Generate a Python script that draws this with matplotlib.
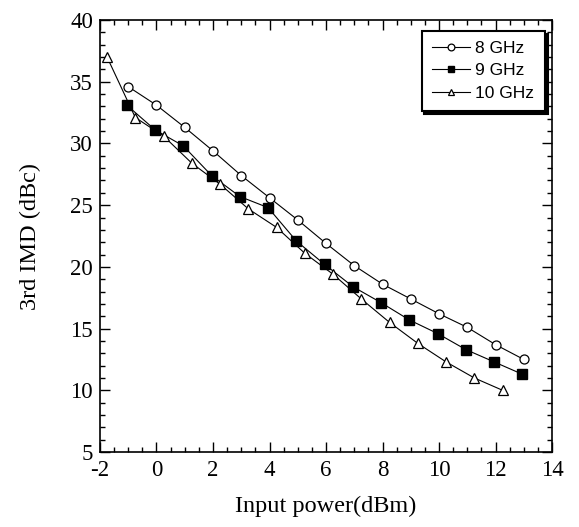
import numpy as np
import matplotlib
matplotlib.use("Agg")
import matplotlib.pyplot as plt
from matplotlib.ticker import MultipleLocator

# data
x_8 = [-1, 0, 1, 2, 3, 4, 5, 6, 7, 8, 9, 10, 11, 12, 13]
imd_8 = [34.6, 33.1, 31.3, 29.4, 27.4, 25.6, 23.8, 21.9, 20.1, 18.6, 17.4, 16.2, 15.1, 13.7, 12.5]

x_9 = [-1.05, -0.05, 0.95, 1.95, 2.95, 3.95, 4.95, 5.95, 6.95, 7.95, 8.95, 9.95, 10.95, 11.95, 12.95]
imd_9 = [33.1, 31.1, 29.8, 27.4, 25.7, 24.8, 22.1, 20.2, 18.4, 17.1, 15.7, 14.6, 13.3, 12.3, 11.3]

x_10 = [-1.75, -0.75, 0.25, 1.25, 2.25, 3.25, 4.25, 5.25, 6.25, 7.25, 8.25, 9.25, 10.25, 11.25, 12.25]
imd_10 = [37.0, 32.1, 30.6, 28.4, 26.7, 24.7, 23.2, 21.1, 19.4, 17.4, 15.5, 13.8, 12.3, 11.0, 10.0]

labels = ['8 GHz', '9 GHz', '10 GHz']

plt.rcParams['font.family'] = ['Liberation Serif', 'DejaVu Serif']
plt.rcParams['axes.unicode_minus'] = False

fig = plt.figure(figsize=(5.79, 5.27), dpi=100)
ax = fig.add_axes([0.1727, 0.1423, 0.7807, 0.8197])

ax.plot(x_8, imd_8, '-o', color='black', mfc='white', mec='black', ms=6.5, lw=0.8, mew=0.9, label=labels[0])
ax.plot(x_9, imd_9, '-s', color='black', mfc='black', ms=6.5, lw=0.8, label=labels[1])
ax.plot(x_10, imd_10, '-^', color='black', mfc='white', mec='black', ms=6.5, lw=0.8, mew=0.9, label=labels[2])

ax.set_xlim(-2, 14)
ax.set_ylim(5, 40)
ax.xaxis.set_major_locator(MultipleLocator(2))
ax.xaxis.set_minor_locator(MultipleLocator(0.5))
ax.yaxis.set_major_locator(MultipleLocator(5))
ax.yaxis.set_minor_locator(MultipleLocator(1))
ax.tick_params(which='both', direction='in', top=True, right=True, labelsize=16.5, width=1)
ax.tick_params(which='major', length=7)
ax.tick_params(which='minor', length=3.5)
ax.tick_params(axis='x', pad=6)
ax.tick_params(axis='y', pad=5)
for s in ax.spines.values():
    s.set_linewidth(1.2)

ax.set_xlabel('Input power(dBm)', fontsize=17.5, va='center')
ax.set_ylabel('3rd IMD (dBc)', fontsize=17.5, va='center')
ax.xaxis.set_label_coords(0.5, -0.125)
ax.yaxis.set_label_coords(-0.153, 0.5)

leg = ax.legend(loc='upper right', bbox_to_anchor=(0.984, 0.975), borderaxespad=0, fancybox=False,
                edgecolor='black', prop={'family': 'Liberation Sans', 'size': 12.5},
                handlelength=2.2, borderpad=0.6, labelspacing=0.4, handletextpad=0.3,
                markerscale=0.75, shadow={'color': 'black', 'alpha': 1})
leg.get_frame().set_linewidth(1.5)

fig.savefig('out.png', dpi=100)
